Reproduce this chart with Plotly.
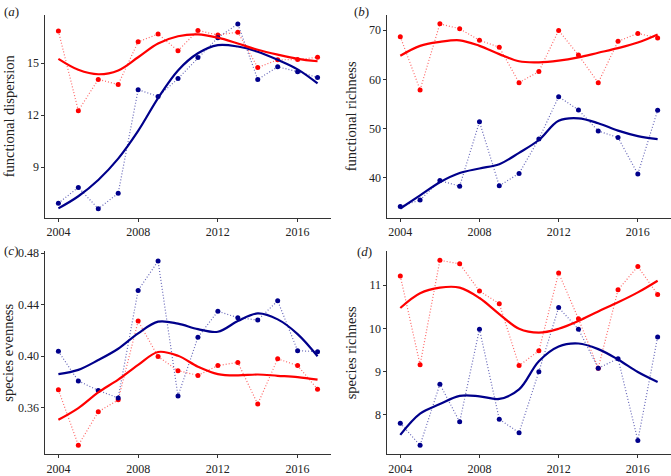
import plotly.graph_objects as go

years = list(range(2004, 2018))

# (a) functional dispersion
fdis_red = [16.85, 12.26, 14.06, 13.77, 16.23, 16.68, 15.72, 16.89, 16.62, 16.79, 14.75, 15.19, 15.21, 15.34]
fdis_blue = [6.92, 7.83, 6.60, 7.49, 13.47, 13.08, 14.11, 15.32, 16.47, 17.26, 14.06, 14.79, 14.51, 14.17]
fdis_red_smooth = [15.25, 14.62, 14.36, 14.58, 15.34, 16.13, 16.55, 16.66, 16.47, 16.13, 15.77, 15.49, 15.25, 15.11]
fdis_blue_smooth = [6.62, 7.32, 8.26, 9.49, 11.09, 12.98, 14.58, 15.57, 16.04, 15.96, 15.66, 15.19, 14.64, 13.83]

# (b) functional richness
fric_red = [68.67, 57.87, 71.27, 70.27, 67.93, 66.53, 59.33, 61.6, 69.93, 64.93, 59.33, 67.73, 69.33, 68.4]
fric_blue = [34.2, 35.53, 39.47, 38.33, 51.4, 38.4, 40.93, 47.9, 56.5, 53.8, 49.53, 48.2, 40.8, 53.73]
fric_red_smooth = [64.8, 66.8, 67.6, 67.93, 66.8, 65.13, 63.67, 63.47, 63.8, 64.47, 65.4, 66.33, 67.47, 69.13]
fric_blue_smooth = [33.8, 36.47, 39.13, 41.0, 41.93, 42.8, 45.1, 47.7, 51.6, 52.1, 51.1, 49.6, 48.5, 47.87]

# (c) species evenness
even_red = [0.3739, 0.3309, 0.3568, 0.3661, 0.4273, 0.3997, 0.3888, 0.3851, 0.3927, 0.3952, 0.3628, 0.3980, 0.3927, 0.3744]
even_blue = [0.4038, 0.3808, 0.3734, 0.3676, 0.4511, 0.4739, 0.3691, 0.4147, 0.4349, 0.4299, 0.4281, 0.4430, 0.4043, 0.4035]
even_red_smooth = [0.3506, 0.3597, 0.3719, 0.3818, 0.3932, 0.4033, 0.4003, 0.3919, 0.3861, 0.3851, 0.3858, 0.3848, 0.3838, 0.3818]
even_blue_smooth = [0.3861, 0.3894, 0.3970, 0.4058, 0.4177, 0.4268, 0.4253, 0.4210, 0.4190, 0.4273, 0.4332, 0.4286, 0.4172, 0.4000]

# (d) species richness
rich_red = [11.21, 9.16, 11.57, 11.49, 10.86, 10.57, 9.14, 9.48, 11.28, 10.22, 9.08, 10.89, 11.43, 10.78]
rich_blue = [7.81, 7.30, 8.71, 7.84, 9.98, 7.90, 7.59, 9.00, 10.48, 9.98, 9.08, 9.30, 7.41, 9.80]
rich_red_smooth = [10.47, 10.81, 10.94, 10.94, 10.70, 10.33, 9.99, 9.90, 9.99, 10.17, 10.39, 10.60, 10.83, 11.10]
rich_blue_smooth = [7.54, 8.03, 8.25, 8.44, 8.43, 8.37, 8.59, 9.24, 9.58, 9.65, 9.52, 9.28, 8.99, 8.76]

RED = "#ff0000"
BLUE = "#00008b"
FONT = "Liberation Serif"


def add_panel(fig, n, red, blue, red_s, blue_s):
    xa = "x" if n == 1 else "x%d" % n
    ya = "y" if n == 1 else "y%d" % n
    for vals, col, faint in [(red, RED, "rgba(255,0,0,0.6)"), (blue, BLUE, "rgba(0,0,139,0.6)")]:
        fig.add_trace(go.Scatter(x=years, y=vals, mode="lines+markers", xaxis=xa, yaxis=ya,
                                 line=dict(color=faint, width=1.2, dash="1px,2px"),
                                 marker=dict(color=col, size=5), showlegend=False))
    for vals, col in [(blue_s, BLUE), (red_s, RED)]:
        fig.add_trace(go.Scatter(x=years, y=vals, mode="lines", xaxis=xa, yaxis=ya,
                                 line=dict(color=col, width=2.2, shape="spline", smoothing=1.0),
                                 showlegend=False))


fig = go.Figure()
add_panel(fig, 1, fdis_red, fdis_blue, fdis_red_smooth, fdis_blue_smooth)
add_panel(fig, 2, fric_red, fric_blue, fric_red_smooth, fric_blue_smooth)
add_panel(fig, 3, even_red, even_blue, even_red_smooth, even_blue_smooth)
add_panel(fig, 4, rich_red, rich_blue, rich_red_smooth, rich_blue_smooth)

W, H = 671, 476
left_dom = [44.5 / W, 330 / W]
right_dom = [387 / W, 670.5 / W]
top_dom = [1 - 217 / H, 1 - 10 / H]
bot_dom = [1 - 458 / H, 1 - 251 / H]


def xax(dom, anchor):
    return dict(domain=dom, anchor=anchor, range=[2003.35, 2017.65], tickvals=[2004, 2008, 2012, 2016],
                showline=True, linecolor="#333", linewidth=1, ticks="outside", ticklen=3, tickcolor="#333",
                showgrid=False, zeroline=False, tickfont=dict(family=FONT, size=12, color="#222"))


def yax(dom, anchor, rng, tv, tt, title):
    return dict(domain=dom, anchor=anchor, range=rng, tickvals=tv, ticktext=tt,
                showline=True, linecolor="#333", linewidth=1, ticks="outside", ticklen=3, tickcolor="#333",
                showgrid=False, zeroline=False, tickfont=dict(family=FONT, size=12, color="#222"),
                title=dict(text=title, font=dict(family=FONT, size=14.5, color="#222"), standoff=8))


fig.update_layout(
    width=W, height=H, margin=dict(l=0, r=0, t=0, b=0),
    paper_bgcolor="white", plot_bgcolor="white",
    xaxis=xax(left_dom, "y"),
    yaxis=yax(top_dom, "x", [6.07, 17.79], [9, 12, 15], ["9", "12", "15"], "functional dispersion"),
    xaxis2=xax(right_dom, "y2"),
    yaxis2=yax(top_dom, "x2", [31.9, 73.1], [40, 50, 60, 70], ["40", "50", "60", "70"], "functional richness"),
    xaxis3=xax(left_dom, "y3"),
    yaxis3=yax(bot_dom, "x3", [0.3238, 0.4815], [0.36, 0.40, 0.44, 0.48], ["0.36", "0.40", "0.44", "0.48"], "species evenness"),
    xaxis4=xax(right_dom, "y4"),
    yaxis4=yax(bot_dom, "x4", [7.09, 11.78], [8, 9, 10, 11], ["8", "9", "10", "11"], "species richness"),
)

labels = [("(<i>a</i>)", 1, 7), ("(<i>b</i>)", 352, 7), ("(<i>c</i>)", 1, 250), ("(<i>d</i>)", 355, 251)]
for txt, px, py in labels:
    fig.add_annotation(text=txt, x=px / W, y=1 - py / H, xref="paper", yref="paper",
                       xanchor="left", yanchor="middle", showarrow=False,
                       font=dict(family=FONT, size=13, color="#222"))

# drop the default page margin so the 671x476 figure fills the window
fig.write_html("out.html", config={"displayModeBar": False},
               post_script="document.body.style.margin='0';")
